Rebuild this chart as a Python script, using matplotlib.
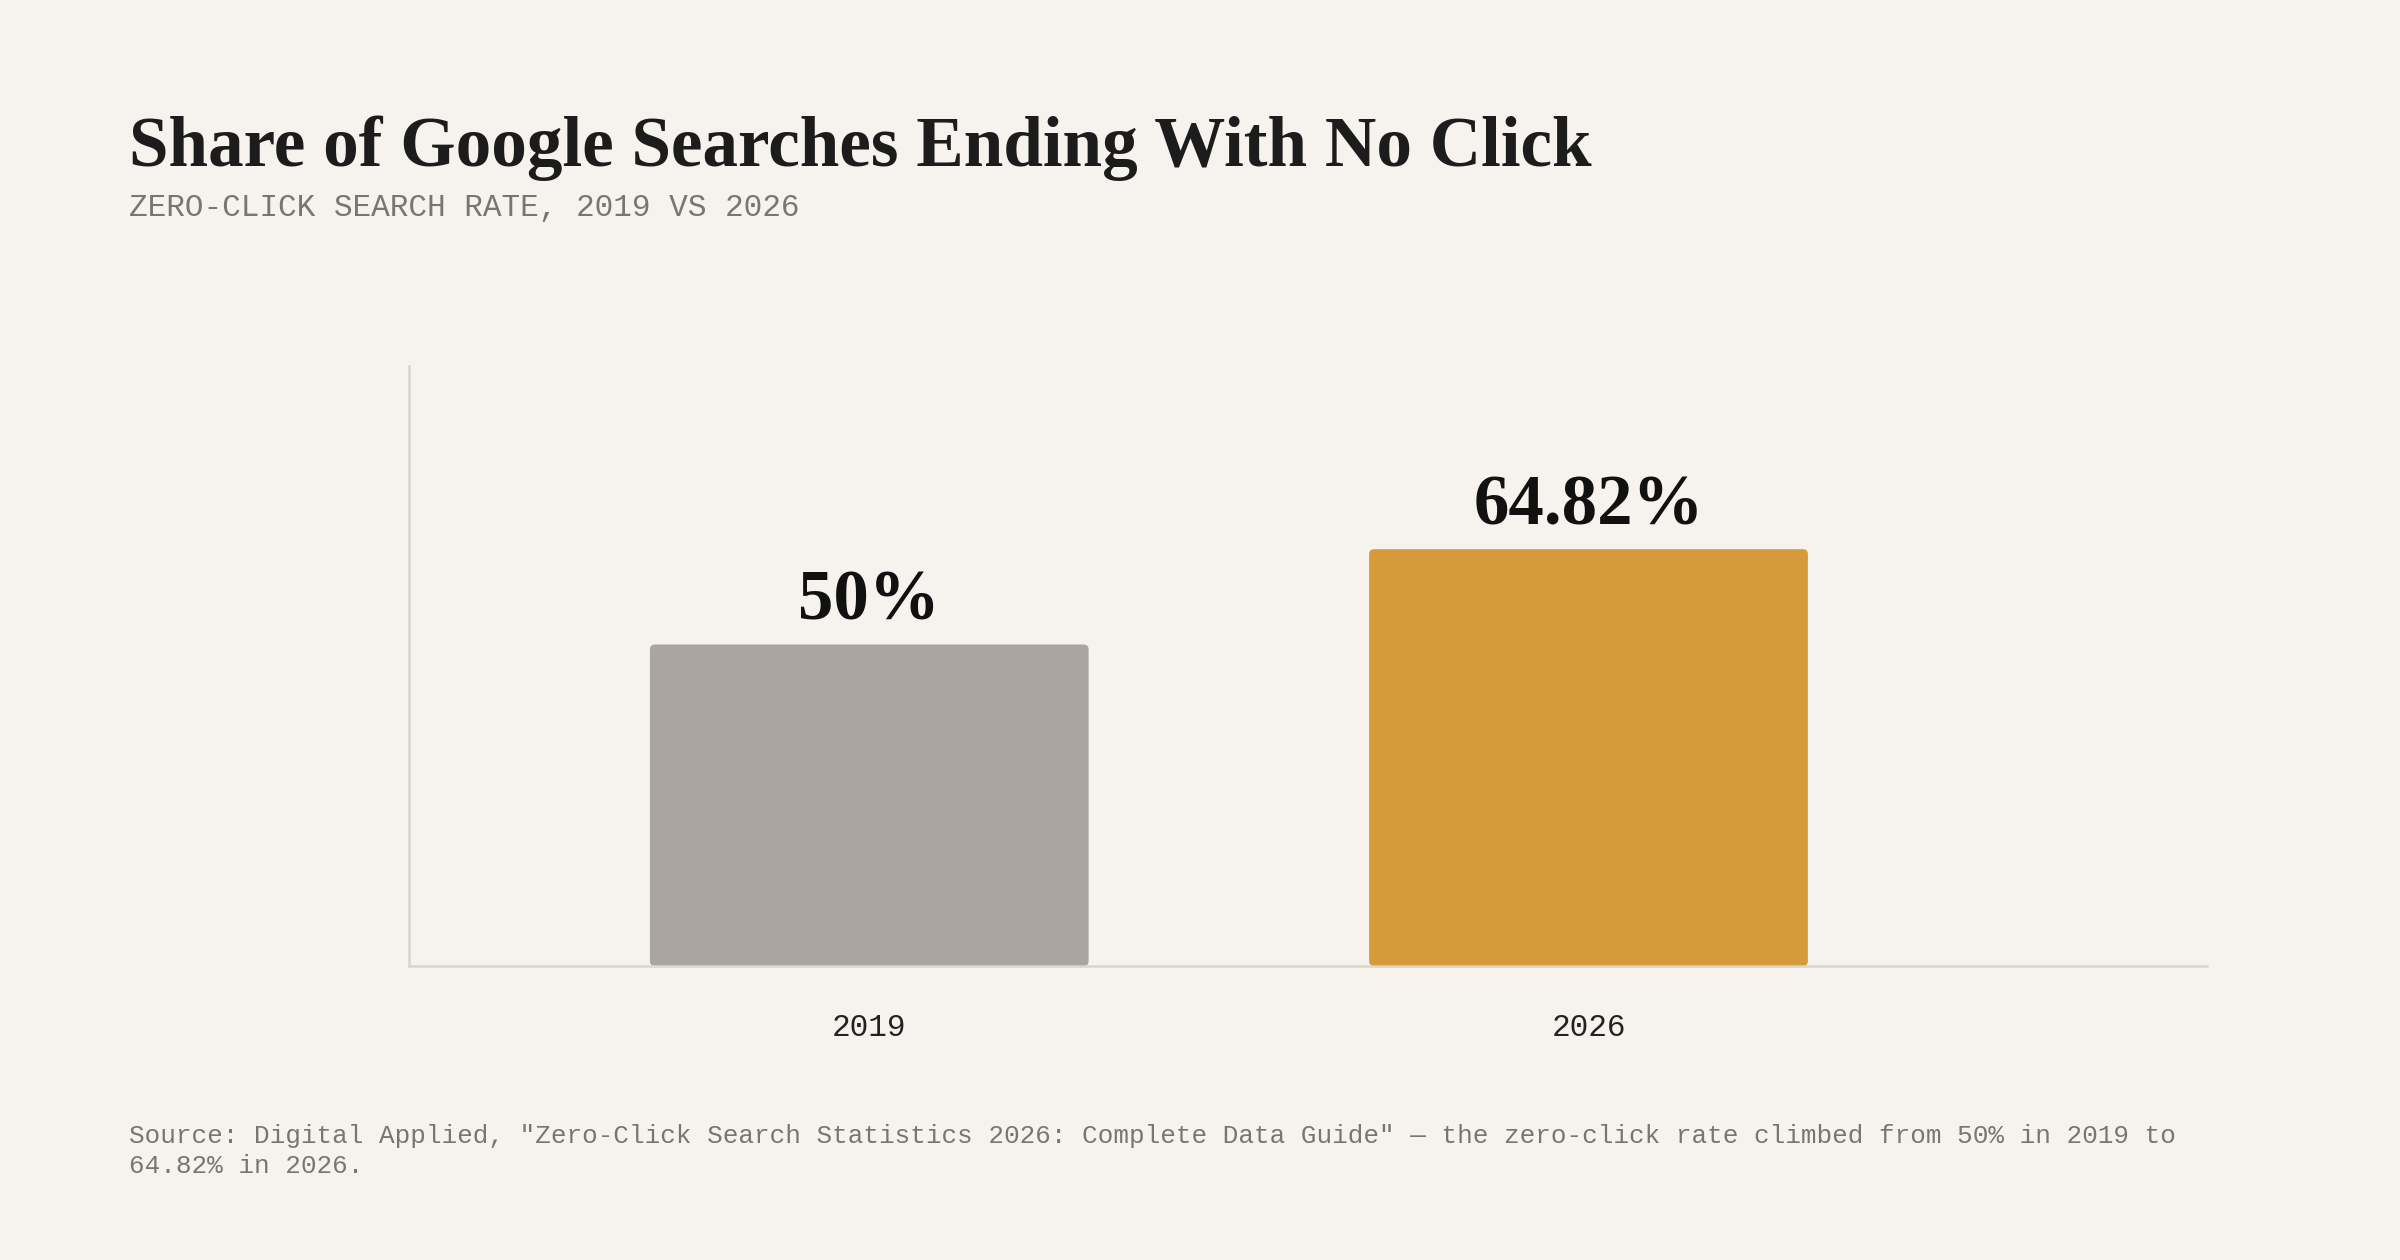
import matplotlib
matplotlib.use("Agg")
import matplotlib.pyplot as plt
from matplotlib.patches import FancyBboxPatch

# data
years = ["2019", "2026"]
zero_click_rate = [50, 64.82]
value_labels = ["50%", "64.82%"]
bar_colors = ["#aaa59f", "#d69a3a"]

BG = "#f6f3ee"
SERIF = ["Liberation Serif", "DejaVu Serif"]
MONO = ["Liberation Mono", "DejaVu Sans Mono"]

fig = plt.figure(figsize=(12, 6.3), dpi=200, facecolor=BG)
ax = fig.add_axes([0.1704, 0.2333, 0.7492, 0.4762], facecolor=BG)

x = range(len(years))
bars = ax.bar(x, zero_click_rate, width=0.61, color=bar_colors, zorder=2)

ax.set_xlim(-0.64, 1.86)
ax.set_ylim(0, 93.3)

# swap plain rectangles for slightly rounded ones
fig.canvas.draw()
px_x = ax.transData.transform((1, 0))[0] - ax.transData.transform((0, 0))[0]
px_y = ax.transData.transform((0, 1))[1] - ax.transData.transform((0, 0))[1]
for rect in bars:
    rect.set_visible(False)
    rounded = FancyBboxPatch((rect.get_x(), rect.get_y()), rect.get_width(), rect.get_height(),
                             boxstyle="round,pad=0,rounding_size=%f" % (5 / px_x),
                             mutation_aspect=px_x / px_y,
                             facecolor=rect.get_facecolor(), edgecolor="none", zorder=2)
    ax.add_patch(rounded)

for xi, v, lab in zip(x, zero_click_rate, value_labels):
    ax.annotate(lab, (xi, v), xytext=(0, 9), textcoords="offset points",
                ha="center", va="baseline", fontsize=25.5, fontweight="bold",
                family=SERIF, color="#111111")

ax.set_xticks(list(x))
ax.set_xticklabels(years, family=MONO, fontsize=11.2, color="#222222")
ax.set_yticks([])
ax.tick_params(axis="x", length=0, pad=17)

for side in ["top", "right"]:
    ax.spines[side].set_visible(False)
for side in ["left", "bottom"]:
    ax.spines[side].set_color("#d8d4ce")
    ax.spines[side].set_linewidth(0.9)
    ax.spines[side].set_zorder(3)

# titles
fig.text(0.0538, 0.868, "Share of Google Searches Ending With No Click",
         family=SERIF, fontweight="bold", fontsize=25.6, color="#1c1c1c",
         va="baseline", ha="left")
fig.text(0.0538, 0.8286, "ZERO-CLICK SEARCH RATE, 2019 VS 2026",
         family=MONO, fontsize=11.2, color="#7a7570",
         va="baseline", ha="left")

# footer
fig.text(0.0538, 0.108,
         'Source: Digital Applied, "Zero-Click Search Statistics 2026: Complete Data Guide" \u2014 the zero-click rate climbed from 50% in 2019 to\n'
         '64.82% in 2026.',
         family=MONO, fontsize=9.35, color="#7a7570",
         va="top", ha="left", linespacing=1.3)

fig.savefig("out.png", dpi=200, facecolor=BG)
